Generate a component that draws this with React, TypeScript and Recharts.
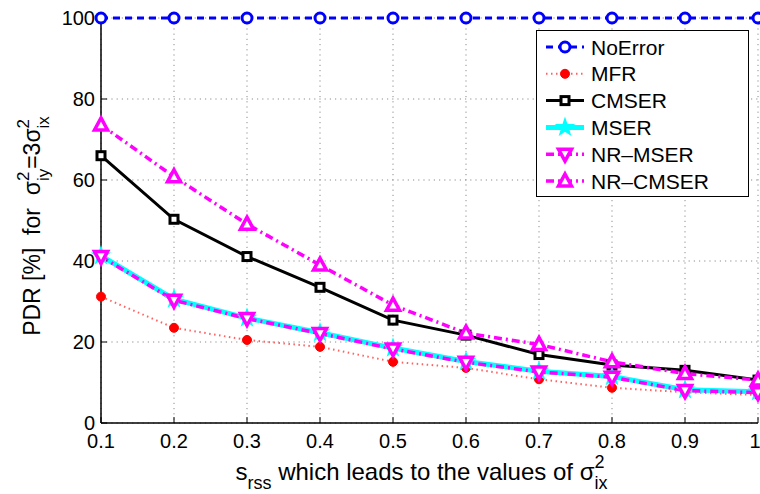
import { CartesianGrid, Legend, Line, LineChart, XAxis, YAxis } from 'recharts';

// s_rss values on the x axis
const sValues = [0.1, 0.2, 0.3, 0.4, 0.5, 0.6, 0.7, 0.8, 0.9, 1.0];
const xTicks = [0.1, 0.2, 0.3, 0.4, 0.5, 0.6, 0.7, 0.8, 0.9, 1];
const yTicks = [0, 20, 40, 60, 80, 100];

// PDR [%] per method
const noError = [100, 100, 100, 100, 100, 100, 100, 100, 100, 100];
const mfr = [31.2, 23.5, 20.5, 18.8, 15.1, 13.6, 10.8, 8.7, 7.6, 6.9];
const cmser = [66.0, 50.3, 41.1, 33.5, 25.4, 21.7, 16.9, 14.3, 13.0, 10.6];
const mser = [41.3, 30.6, 25.9, 22.3, 18.5, 15.2, 12.8, 11.5, 8.2, 7.7];
const nrMser = [41.1, 30.3, 25.8, 22.1, 18.3, 15.0, 12.6, 11.3, 8.0, 7.5];
const nrCmser = [73.6, 60.8, 49.1, 39.0, 29.1, 22.2, 19.4, 15.1, 12.2, 10.6];

const data = sValues.map((s, i) => ({
  s,
  noError: noError[i],
  mfr: mfr[i],
  cmser: cmser[i],
  mser: mser[i],
  nrMser: nrMser[i],
  nrCmser: nrCmser[i],
}));

const FONT = '"Liberation Sans", Arial, Helvetica, sans-serif';
const BLUE = '#0000ff';
const RED = '#ff0000';
const CYAN = '#00ffff';
const MAGENTA = '#ff00ff';

// marker shapes
const circle = (cx: number, cy: number, k: any, stroke: string, fill: string, r: number, sw: number) => (
  <circle key={k} cx={cx} cy={cy} r={r} stroke={stroke} strokeWidth={sw} fill={fill} />
);
const square = (cx: number, cy: number, k: any) => (
  <rect key={k} x={cx - 4} y={cy - 4} width={8} height={8} fill='#fff' stroke='#000' strokeWidth={3} />
);
const star = (cx: number, cy: number, k: any) => {
  const pts = [];
  for (let i = 0; i < 10; i++) {
    const a = ((-90 + i * 36) * Math.PI) / 180;
    const r = i % 2 ? 3.4 : 8.5;
    pts.push(`${cx + r * Math.cos(a)},${cy + r * Math.sin(a)}`);
  }
  return <polygon key={k} points={pts.join(' ')} fill={CYAN} stroke={CYAN} strokeWidth={1.5} />;
};
const triangle = (cx: number, cy: number, k: any, up: boolean) => {
  const d = up
    ? `M${cx},${cy - 7} L${cx + 6.5},${cy + 5} L${cx - 6.5},${cy + 5} Z`
    : `M${cx},${cy + 7} L${cx + 6.5},${cy - 5} L${cx - 6.5},${cy - 5} Z`;
  return <path key={k} d={d} fill='#fff' stroke={MAGENTA} strokeWidth={3.5} strokeLinejoin='miter' />;
};

const series = [
  {
    key: 'noError', name: 'NoError', color: BLUE, width: 3, dash: '7 5',
    marker: (cx: number, cy: number, k: any) => circle(cx, cy, k, BLUE, '#fff', 5, 3),
  },
  {
    key: 'mfr', name: 'MFR', color: '#ff6060', width: 2, dash: '1.5 3.5',
    marker: (cx: number, cy: number, k: any) => circle(cx, cy, k, RED, RED, 4.5, 1),
  },
  {
    key: 'cmser', name: 'CMSER', color: '#000', width: 3, dash: undefined,
    marker: (cx: number, cy: number, k: any) => square(cx, cy, k),
  },
  {
    key: 'mser', name: 'MSER', color: CYAN, width: 5, dash: undefined,
    marker: (cx: number, cy: number, k: any) => star(cx, cy, k),
  },
  {
    key: 'nrMser', name: 'NR\u2013MSER', color: MAGENTA, width: 3.5, dash: '8 4 2 4',
    marker: (cx: number, cy: number, k: any) => triangle(cx, cy, k, false),
  },
  {
    key: 'nrCmser', name: 'NR\u2013CMSER', color: MAGENTA, width: 3.5, dash: '8 4 2 4',
    marker: (cx: number, cy: number, k: any) => triangle(cx, cy, k, true),
  },
];

const renderLegend = () => (
  <div style={{ border: '1.5px solid #000', background: '#fff', width: 211, height: 165 }}>
    <svg width={211} height={165}>
      {series.map((s, i) => {
        const y = 16 + i * 26.8;
        return (
          <g key={s.key}>
            <line x1={9} x2={47} y1={y} y2={y} stroke={s.color} strokeWidth={s.width} strokeDasharray={s.dash} />
            {s.marker(28, y, s.key)}
            <text x={54} y={y + 7.5} fontSize={21} fontFamily={FONT} fill='#000'>
              {s.name}
            </text>
          </g>
        );
      })}
    </svg>
  </div>
);

const XLabel = (props: any) => {
  const { viewBox } = props;
  const cx = viewBox.x + viewBox.width / 2 - 8;
  return (
    <text x={cx} y={480} textAnchor='middle' fontSize={24} fontFamily={FONT} fill='#000'>
      <tspan>s</tspan>
      <tspan fontSize={18} dy={9}>rss</tspan>
      <tspan dy={-9}> which leads to the values of σ</tspan>
      <tspan fontSize={18} dy={-12}>2</tspan>
      <tspan fontSize={18} dx={-10} dy={21}>ix</tspan>
    </text>
  );
};

const YLabel = () => (
  <text
    transform='rotate(-90)'
    x={-226}
    y={40}
    textAnchor='middle'
    fontSize={23}
    fontFamily={FONT}
    fill='#000'
    style={{ whiteSpace: 'pre' }}
  >
    <tspan>PDR [%]  for  σ</tspan>
    <tspan fontSize={17} dy={-11}>2</tspan>
    <tspan fontSize={17} dx={-9.5} dy={20}>iy</tspan>
    <tspan dy={-9}>=3σ</tspan>
    <tspan fontSize={17} dy={-11}>2</tspan>
    <tspan fontSize={17} dx={-9.5} dy={20}>ix</tspan>
  </text>
);

export default function App() {
  const tickStyle = { fill: '#000', fontSize: 20, fontFamily: FONT };
  return (
    <div style={{ position: 'absolute', left: 0, top: 0, background: '#fff' }}>
      <LineChart width={760} height={494} data={data} margin={{ top: 18, right: 2, bottom: 0, left: 0 }}>
        <CartesianGrid stroke='#8c8c8c' strokeDasharray='1.2 4' strokeWidth={1} />
        <XAxis
          dataKey='s'
          type='number'
          domain={[0.1, 1]}
          ticks={xTicks}
          height={71}
          tick={tickStyle}
          tickSize={-6}
          tickMargin={17}
          stroke='#000'
          axisLine={{ stroke: '#000', strokeWidth: 1.5 }}
          tickFormatter={(v: number) => String(v)}
          label={{ content: <XLabel /> }}
        />
        <XAxis
          xAxisId='top'
          orientation='top'
          dataKey='s'
          type='number'
          domain={[0.1, 1]}
          ticks={xTicks}
          height={0}
          tickSize={-6}
          stroke='#000'
          axisLine={{ stroke: '#000', strokeWidth: 1.5 }}
          tickFormatter={() => ''}
        />
        <YAxis
          type='number'
          domain={[0, 100]}
          ticks={yTicks}
          width={101}
          tick={tickStyle}
          tickSize={-6}
          tickMargin={12}
          stroke='#000'
          axisLine={{ stroke: '#000', strokeWidth: 1.5 }}
          label={{ content: <YLabel /> }}
        />
        <YAxis
          yAxisId='right'
          orientation='right'
          type='number'
          domain={[0, 100]}
          ticks={yTicks}
          width={0}
          tickSize={-6}
          stroke='#000'
          axisLine={{ stroke: '#000', strokeWidth: 1.5 }}
          tickFormatter={() => ''}
        />
        {series.map((s) => (
          <Line
            key={s.key}
            dataKey={s.key}
            name={s.name}
            type='linear'
            stroke={s.color}
            strokeWidth={s.width}
            strokeDasharray={s.dash}
            isAnimationActive={false}
            dot={(p: any) => s.marker(p.cx, p.cy, `${s.key}-${p.index}`)}
            activeDot={false}
          />
        ))}
        <Legend
          layout='vertical'
          align='center'
          verticalAlign='middle'
          content={renderLegend}
          wrapperStyle={{ left: 536, top: 30, width: 214, height: 168 }}
        />
      </LineChart>
    </div>
  );
}
